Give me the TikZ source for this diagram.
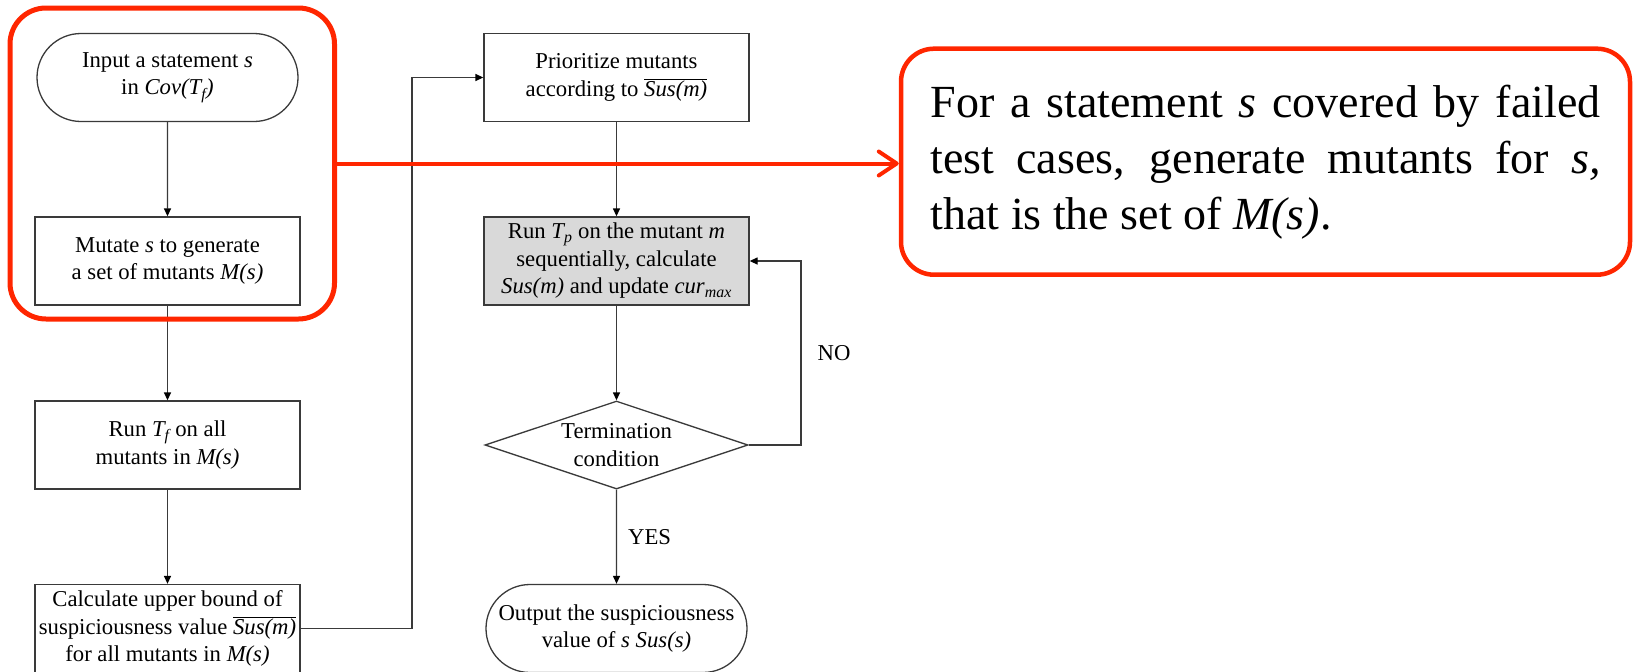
\documentclass[tikz,border=0pt]{standalone}
\usepackage{fontspec}
\setmainfont{Liberation Serif}
\usetikzlibrary{arrows.meta,shapes.geometric,shapes.misc}

\definecolor{hlred}{RGB}{255,38,0}
\definecolor{edge}{RGB}{58,58,58}
\definecolor{shade}{RGB}{217,217,217}

\newcommand\flowfont{\fontsize{22.7pt}{27.5pt}\selectfont}
\newcommand\susbar{$\overline{\hbox{\itshape Sus(m)}}$}
\newcommand\sub[1]{\textsubscript{\itshape #1}}

\begin{document}
\begin{tikzpicture}[x=1pt,y=-1pt,
  box/.style={draw=edge, line width=1.3pt, minimum width=265pt, minimum height=88pt,
              inner sep=2pt, align=center, font=\flowfont},
  term/.style={box, rounded rectangle},
  flow/.style={draw=edge, line width=1.3pt, -{Triangle[length=8pt,width=7pt,color=black]}},
  lbl/.style={font=\flowfont, inner sep=0pt}
]
\useasboundingbox (0,0) rectangle (1634,672);

% turning points of the two side connectors
\coordinate (bus) at (412,0);
\coordinate (loop) at (801,0);

% left column
\node[term] (start) at (167.5,77.5) {Input a statement \textit{s}\\in \textit{Cov(T\sub{f})}};
\node[box] (mutate) at (167.5,261) {Mutate \textit{s} to generate\\a set of mutants \textit{M(s)}};
\node[box] (runtf) at (167.5,445) {Run \textit{T\sub{f}} on all\\mutants in \textit{M(s)}};
\node[box] (calc) at (167.5,628.5) {Calculate upper bound of\\suspiciousness value \susbar\\for all mutants in \textit{M(s)}};

% right column
\node[box] (prio) at (616.5,77.5) {Prioritize mutants\\according to \susbar};
\node[box, fill=shade] (runtp) at (616.5,261) {Run \textit{T\sub{p}} on the mutant \textit{m}\\sequentially, calculate\\\textit{Sus(m)} and update \textit{cur}\sub{max}};
\node[diamond, draw=edge, line width=1.3pt, minimum width=263pt, minimum height=88pt, inner sep=0pt,
      label={[font=\flowfont, align=center]center:Termination\\condition}] (dec) at (616.5,445) {};
\node[term] (out) at (616.5,628.5) {Output the suspiciousness\\value of \textit{s} \textit{Sus(s)}};

% connectors
\draw[flow] (start) -- (mutate);
\draw[flow] (mutate) -- (runtf);
\draw[flow] (runtf) -- (calc);
\draw[flow] (calc.east) -- (calc.east -| bus) |- (prio.west);
\draw[flow] (prio) -- (runtp);
\draw[flow] (runtp) -- (dec);
\draw[flow] (dec) -- node[lbl, right, xshift=11pt] {YES} (out);
\draw[flow] (dec.east) -- (dec.east -| loop) |- node[lbl, pos=0.25, right, xshift=16pt] {NO} (runtp.east);

% highlight frame and its explanation
\node[draw=hlred, line width=5pt, rounded corners=36pt, minimum width=324.5pt, minimum height=311pt]
  (hl) at (172.25,163.5) {};
\node[draw=hlred, line width=4.5pt, rounded corners=33pt, minimum width=729pt, minimum height=226pt,
      inner sep=0pt] (note) at (1265.5,161.7)
  {\parbox{670pt}{\fontsize{46pt}{56pt}\selectfont\tolerance=9999
   For a statement \textit{s} covered by failed\linebreak
   test cases, generate mutants for \textit{s,}\linebreak
   that is the set of \textit{M(s)}.}};
\draw[hlred, line width=4pt, -{Straight Barb[length=18pt,width=24pt,line cap=round,line join=round]}]
  (hl.east) -- (hl.east -| note.west);
\end{tikzpicture}
\end{document}
